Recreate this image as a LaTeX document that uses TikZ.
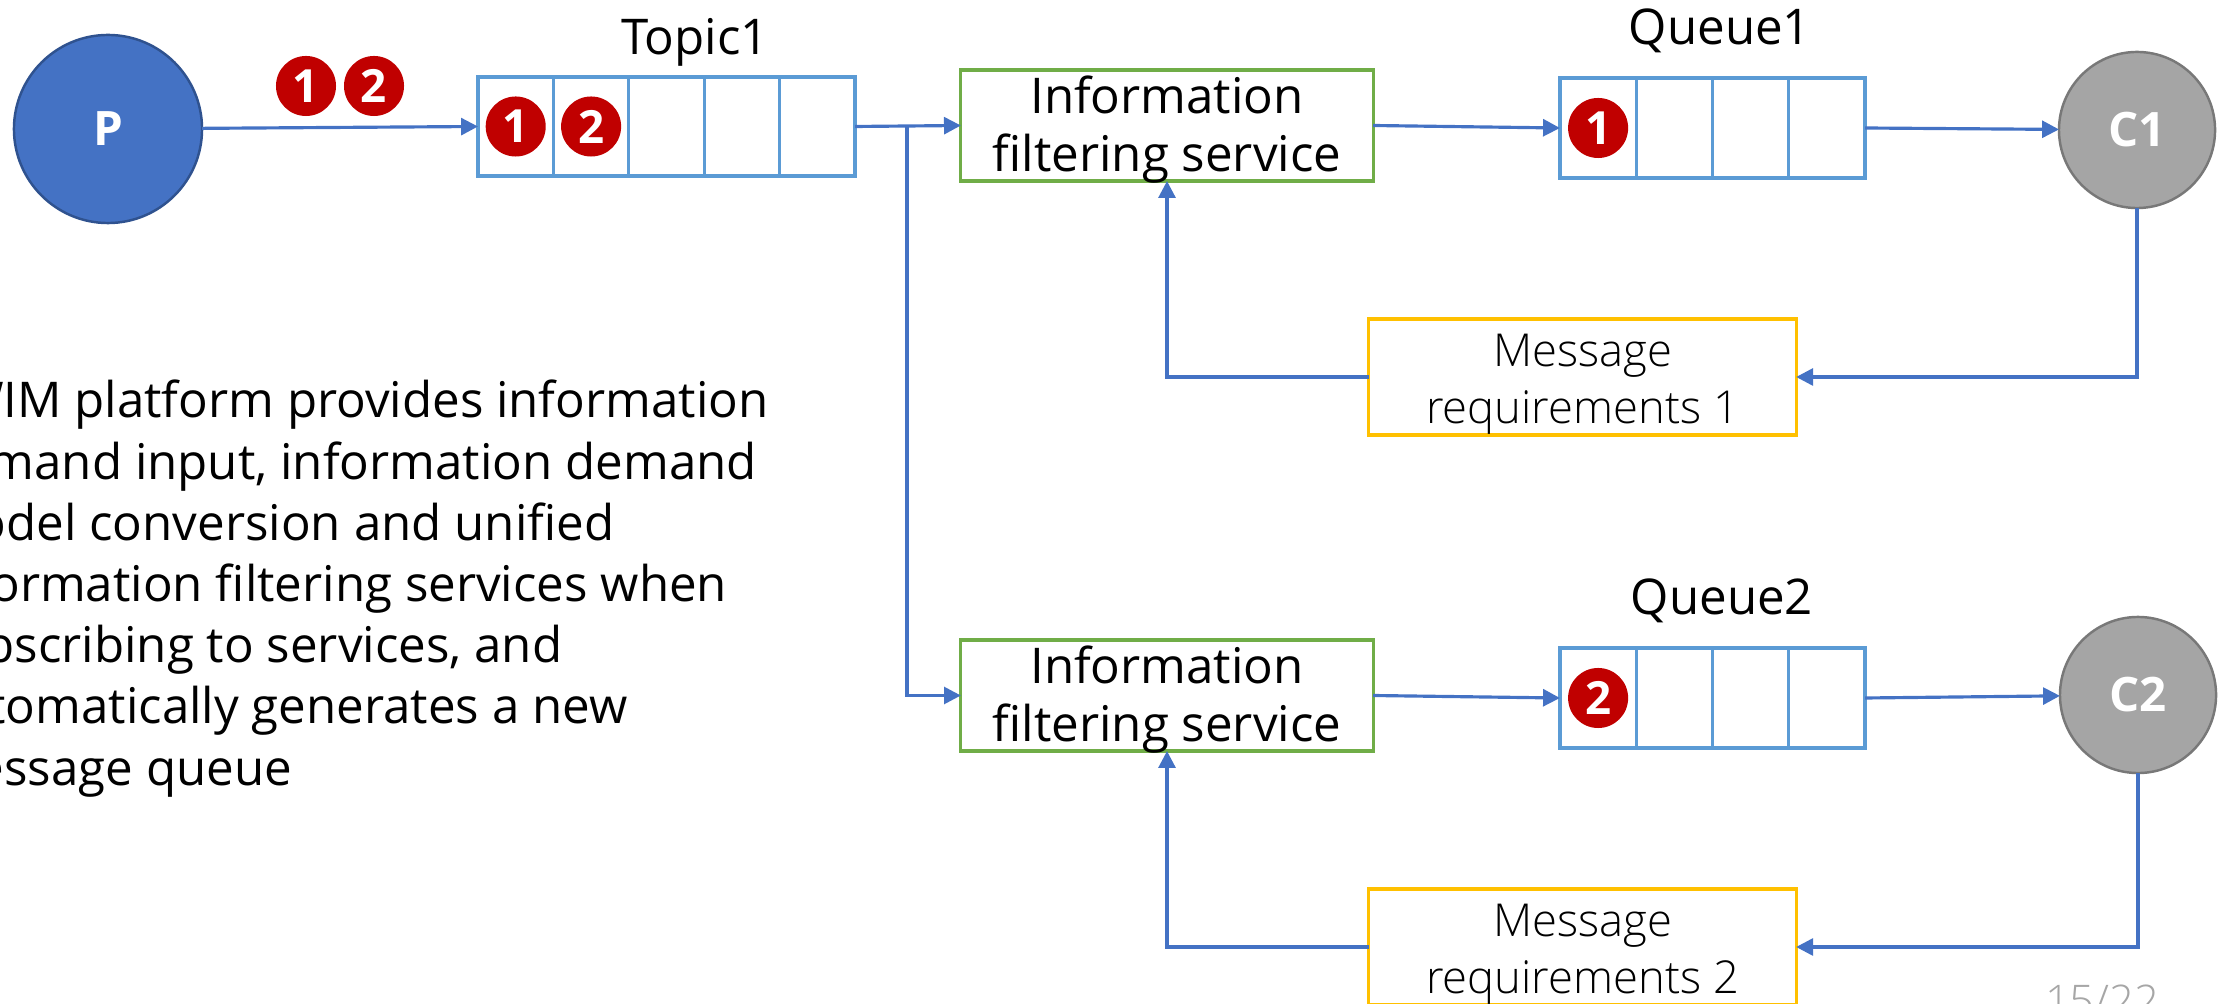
\documentclass[tikz,border=0pt]{standalone}
\usepackage{fontspec}
\setmainfont{Open Sans}
\IfFontExistsTF{Open Sans Light}
  {\newfontfamily\lightfont{Open Sans Light}}
  {\newfontfamily\lightfont{Open Sans}}
\usetikzlibrary{arrows.meta}

\definecolor{pblue}{HTML}{4472C4}
\definecolor{pborder}{HTML}{2F528F}
\definecolor{cgray}{HTML}{A5A5A5}
\definecolor{cborder}{HTML}{787878}
\definecolor{qblue}{HTML}{5B9BD5}
\definecolor{fgreen}{HTML}{70AD47}
\definecolor{mgold}{HTML}{FFC000}
\definecolor{badgered}{HTML}{C00000}
\definecolor{pagegray}{HTML}{A6A6A6}

\begin{document}
\begin{tikzpicture}[x=0.01cm, y=-0.01cm,
  every node/.style={inner sep=0pt, outer sep=0pt},
  caption/.style={font=\fontsize{14pt}{16.5pt}\selectfont},
  producer/.style={circle, minimum size=1.88cm, fill=pblue, draw=pborder,
    line width=0.7pt, text=white, font=\fontsize{13.5pt}{16pt}\selectfont\bfseries},
  consumer/.style={circle, minimum size=1.56cm, fill=cgray, draw=cborder,
    line width=0.7pt, text=white, font=\fontsize{13.5pt}{16pt}\selectfont\bfseries},
  tcell/.style={rectangle, draw=qblue, line width=0.9pt,
    minimum width=0.754cm, minimum height=0.99cm},
  qcell/.style={rectangle, draw=qblue, line width=0.9pt,
    minimum width=0.7625cm, minimum height=1.0cm},
  filterbox/.style={rectangle, draw=fgreen, line width=0.9pt,
    minimum width=4.12cm, minimum height=1.11cm},
  boxtext/.style={align=center, font=\fontsize{14pt}{16.5pt}\selectfont},
  msgbox/.style={rectangle, draw=mgold, line width=0.9pt, fill=white,
    minimum width=4.27cm, minimum height=1.16cm},
  msgtext/.style={align=center, font=\lightfont\fontsize{12.9pt}{16.3pt}\selectfont},
  badge/.style={circle, fill=badgered, minimum size=0.6cm, text=white,
    font=\fontsize{13pt}{13pt}\selectfont\bfseries},
  flow/.style={draw=pblue, line width=0.9pt, -{Triangle[length=4.8pt,width=4.8pt]}},
]
\useasboundingbox (0,0) rectangle (2231,1004);
\begin{scope}
\clip (0,0) rectangle (2231,1004);

% ---- producer and topic ----
\node[producer] (P) at (108,129) {P};

\node[tcell] (t1) at (515.7,126.5) {};
\node[tcell] (t2) at (591.1,126.5) {};
\node[tcell] (t3) at (666.5,126.5) {};
\node[tcell] (t4) at (741.9,126.5) {};
\node[tcell] (t5) at (817.3,126.5) {};
\node[caption, anchor=base] (topiclbl) at (695,55) {Topic1};

\node[badge] (b1) at (306,86) {1};
\node[badge] (b2) at (374,86) {2};
\node[badge] (tb1) at (t1) {1};
\node[badge] (tb2) at (t2) {2};

% ---- upper branch ----
\node[filterbox] (f1) at (1167,125.5) {};
\node[boxtext] (f1txt) at (1167,130) {Information\\filtering service};

\node[qcell] (qa1) at (1598.1,128) {};
\node[qcell] (qb1) at (1674.4,128) {};
\node[qcell] (qc1) at (1750.6,128) {};
\node[qcell] (qd1) at (1826.9,128) {};
\node[caption, anchor=base] (q1lbl) at (1720,45) {Queue1};
\node[badge] (qb1badge) at (qa1) {1};

\node[consumer] (C1) at (2137,130) {C1};
\node[msgbox] (m1) at (1582.5,377) {};
\node[msgtext] (m1txt) at (1582.5,384) {Message\\requirements 1};

% ---- lower branch ----
\node[filterbox] (f2) at (1167,695.5) {};
\node[boxtext] (f2txt) at (1167,700) {Information\\filtering service};

\node[qcell] (qa2) at (1598.1,698) {};
\node[qcell] (qb2) at (1674.4,698) {};
\node[qcell] (qc2) at (1750.6,698) {};
\node[qcell] (qd2) at (1826.9,698) {};
\node[caption, anchor=base] (q2lbl) at (1722,615) {Queue2};
\node[badge] (qb2badge) at (qa2) {2};

\node[consumer] (C2) at (2138,695) {C2};
\node[msgbox] (m2) at (1582.5,947) {};
\node[msgtext] (m2txt) at (1582.5,954) {Message\\requirements 2};

% ---- connectors ----
\coordinate (split) at (907,126.5);
\draw[flow] (P) -- (t1.west);
\draw[flow] (t5.east) -- (f1.west);
\draw[flow] (split) |- (f2.west);

\draw[flow] (f1.east) -- (qa1.west);
\draw[flow] (qd1.east) -- (C1);
\draw[flow] (C1.south) |- (m1.east);
\draw[flow] (m1.west) -| (f1.south);

\draw[flow] (f2.east) -- (qa2.west);
\draw[flow] (qd2.east) -- (C2);
\draw[flow] (C2.south) |- (m2.east);
\draw[flow] (m2.west) -| (f2.south);

% ---- description (its left edge runs off the page) ----
\node[anchor=base west, align=left,
  font=\fontsize{14pt}{17.4pt}\selectfont] (desc) at (-69,785)
  {SWIM platform provides information\\
   demand input, information demand\\
   model conversion and unified\\
   information filtering services when\\
   subscribing to services, and\\
   automatically generates a new\\
   message queue};

\node[anchor=base west, text=pagegray,
  font=\lightfont\fontsize{12.4pt}{14pt}\selectfont] (pagenum) at (2045,1016) {15/22};
\end{scope}
\end{tikzpicture}
\end{document}
